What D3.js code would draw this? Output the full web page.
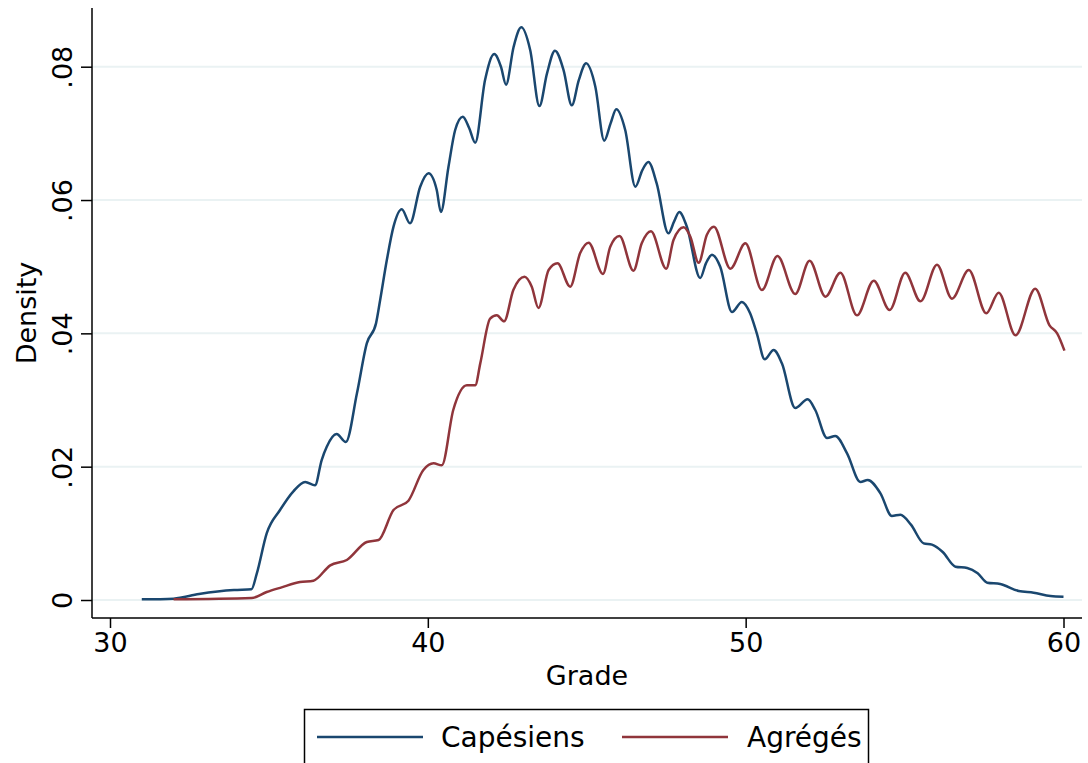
<!DOCTYPE html>
<html>
<head>
<meta charset="utf-8">
<script src="https://cdn.jsdelivr.net/npm/d3@7"></script>
<style>
  body { margin: 0; background: #fff; }
  text { font-family: "DejaVu Sans", sans-serif; fill: #000; }
</style>
</head>
<body>
<div id="chart-container"></div>
<script>
// kernel density of grades (grade, density)
const capesiens = [
  [31.0, 0.0001], [32.0, 0.0002], [32.8, 0.0009], [33.9, 0.0015], [34.45, 0.0016],
  [34.62, 0.004], [34.93, 0.010], [35.35, 0.0135], [35.77, 0.0163], [36.14, 0.0177],
  [36.45, 0.0172], [36.66, 0.021], [36.82, 0.023], [37.13, 0.0249], [37.42, 0.0237],
  [37.77, 0.031], [38.08, 0.0385], [38.37, 0.0415], [38.5, 0.045], [38.71, 0.051],
  [38.92, 0.056], [39.18, 0.0586], [39.44, 0.0565], [39.76, 0.062], [40.02, 0.064],
  [40.28, 0.0615], [40.41, 0.0582], [40.65, 0.065], [40.86, 0.0705], [41.1, 0.0725],
  [41.3, 0.0708], [41.49, 0.0686], [41.8, 0.078], [42.09, 0.0819], [42.3, 0.080],
  [42.46, 0.0773], [42.7, 0.083], [42.94, 0.0859], [43.22, 0.0825], [43.51, 0.0741],
  [43.75, 0.079], [44.0, 0.0824], [44.27, 0.0795], [44.53, 0.0742], [44.75, 0.078],
  [44.98, 0.0805], [45.27, 0.077], [45.55, 0.0689], [45.75, 0.0715], [45.93, 0.0736],
  [46.21, 0.0705], [46.53, 0.062], [46.75, 0.0645], [46.94, 0.0657], [47.2, 0.0625],
  [47.57, 0.055], [47.75, 0.0568], [47.91, 0.0582], [48.15, 0.056], [48.57, 0.0483],
  [48.75, 0.0505], [48.94, 0.0518], [49.2, 0.050], [49.57, 0.0432], [49.88, 0.0447],
  [50.14, 0.043], [50.35, 0.040], [50.6, 0.0361], [50.88, 0.0375], [51.14, 0.0355],
  [51.56, 0.0288], [51.95, 0.0301], [52.19, 0.0285], [52.56, 0.0243], [52.82, 0.0246],
  [53.19, 0.022], [53.61, 0.0177], [53.84, 0.018], [54.24, 0.016], [54.6, 0.0126],
  [54.87, 0.0128], [55.2, 0.0113], [55.6, 0.0085], [55.86, 0.0083], [56.2, 0.0072],
  [56.6, 0.005], [56.97, 0.0048], [57.3, 0.004], [57.6, 0.0026], [58.01, 0.0024],
  [58.59, 0.00135], [59.06, 0.0011], [59.59, 0.0006], [60.0, 0.0005]
];

const agreges = [
  [32.0, 0.0001], [34.46, 0.0003], [34.93, 0.0012], [35.4, 0.0019], [35.98, 0.0027],
  [36.4, 0.0029], [36.93, 0.0052], [37.45, 0.006], [38.08, 0.0087], [38.45, 0.009],
  [38.92, 0.0135], [39.39, 0.0149], [39.86, 0.0195], [40.18, 0.0205], [40.44, 0.0202],
  [40.8, 0.0285], [41.23, 0.0322], [41.49, 0.0322], [41.65, 0.0355], [41.96, 0.0422],
  [42.17, 0.0427], [42.4, 0.0418], [42.69, 0.0465], [43.04, 0.0485], [43.27, 0.047],
  [43.48, 0.0438], [43.8, 0.0495], [44.08, 0.0505], [44.48, 0.047], [44.79, 0.052],
  [45.06, 0.0536], [45.51, 0.0489], [45.74, 0.053], [46.03, 0.0546], [46.47, 0.0494],
  [46.73, 0.0535], [47.02, 0.0553], [47.5, 0.0497], [47.73, 0.054], [48.05, 0.0559],
  [48.26, 0.0545], [48.52, 0.0506], [48.78, 0.0548], [49.0, 0.056], [49.52, 0.0497],
  [49.99, 0.0535], [50.51, 0.0465], [51.0, 0.0516], [51.56, 0.0459], [52.01, 0.0509],
  [52.51, 0.0455], [52.98, 0.0491], [53.5, 0.0427], [54.03, 0.0479], [54.53, 0.0435],
  [55.02, 0.0491], [55.5, 0.0448], [56.02, 0.0503], [56.49, 0.0452], [57.02, 0.0495],
  [57.57, 0.043], [57.96, 0.0461], [58.49, 0.0397], [59.11, 0.0467], [59.56, 0.0412],
  [59.8, 0.040], [60.03, 0.0374]
];

const xTicks = [30, 40, 50, 60];
const yTicks = [0, 0.02, 0.04, 0.06, 0.08];
const seriesNames = ["Capésiens", "Agrégés"];
const seriesColors = ["#1a476f", "#90353b"];

const W = 1088, H = 763;

const svg = d3.select("#chart-container")
  .append("svg")
    .attr("width", W)
    .attr("height", H);

svg.append("rect").attr("width", W).attr("height", H).attr("fill", "#fff");

// scales
const x = d3.scaleLinear().domain([30, 60]).range([110, 1063.5]);
const y = d3.scaleLinear().domain([0, 0.08]).range([600, 66.7]);

const axisLeftX = 92, axisBottomY = 618;

// grid
svg.append("g")
  .selectAll("line")
  .data(yTicks)
  .join("line")
    .attr("x1", axisLeftX)
    .attr("x2", 1082)
    .attr("y1", d => y(d))
    .attr("y2", d => y(d))
    .attr("stroke", "#eaf2f3")
    .attr("stroke-width", 2);

// y axis, labels turned like stata does
const yAxis = svg.append("g")
  .attr("transform", `translate(${axisLeftX},0)`)
  .call(d3.axisLeft(y).tickValues(yTicks).tickSize(11).tickFormat(d => d === 0 ? "0" : d3.format(".2f")(d).replace(/^0/, "")));
yAxis.select(".domain").attr("d", `M0,8V${axisBottomY}`).attr("stroke", "#000").attr("stroke-width", 1.5);
yAxis.selectAll(".tick line").attr("stroke", "#000").attr("stroke-width", 1.5);
yAxis.selectAll(".tick text")
  .attr("x", 0).attr("dy", 0)
  .attr("transform", "translate(-20,0) rotate(-90)")
  .attr("text-anchor", "middle")
  .style("font-size", "27px")
  .style("font-family", "DejaVu Sans");

// x axis
const xAxis = svg.append("g")
  .attr("transform", `translate(0,${axisBottomY})`)
  .call(d3.axisBottom(x).tickValues(xTicks).tickSize(10).tickPadding(5));
xAxis.select(".domain").attr("d", `M${axisLeftX},0H1082`).attr("stroke", "#000").attr("stroke-width", 1.5);
xAxis.selectAll(".tick line").attr("stroke", "#000").attr("stroke-width", 1.5);
xAxis.selectAll(".tick text")
  .attr("dy", "0.71em")
  .style("font-size", "27px")
  .style("font-family", "DejaVu Sans");

// axis titles
svg.append("text")
  .attr("x", 587).attr("y", 685)
  .attr("text-anchor", "middle")
  .style("font-size", "27px")
  .text("Grade");

svg.append("text")
  .attr("transform", "translate(36,313) rotate(-90)")
  .attr("text-anchor", "middle")
  .style("font-size", "27px")
  .text("Density");

// density lines
const line = d3.line()
  .x(d => x(d[0]))
  .y(d => y(d[1]))
  .curve(d3.curveMonotoneX);

svg.selectAll(".density")
  .data([capesiens, agreges])
  .join("path")
    .attr("class", "density")
    .attr("d", line)
    .attr("fill", "none")
    .attr("stroke", (d, i) => seriesColors[i])
    .attr("stroke-width", 2.5)
    .attr("stroke-linejoin", "round");

// legend box at the bottom
const legend = svg.append("g");
legend.append("rect")
  .attr("x", 304.5).attr("y", 709.5)
  .attr("width", 564).attr("height", 60)
  .attr("fill", "#fff")
  .attr("stroke", "#000")
  .attr("stroke-width", 1.5);

const legendX = [[317, 423, 441], [622, 728, 747]];
seriesNames.forEach((name, i) => {
  legend.append("line")
    .attr("x1", legendX[i][0]).attr("x2", legendX[i][1])
    .attr("y1", 737).attr("y2", 737)
    .attr("stroke", seriesColors[i])
    .attr("stroke-width", 2.5);
  legend.append("text")
    .attr("x", legendX[i][2]).attr("y", 747)
    .style("font-size", "28px")
    .text(name);
});
</script>
</body>
</html>
